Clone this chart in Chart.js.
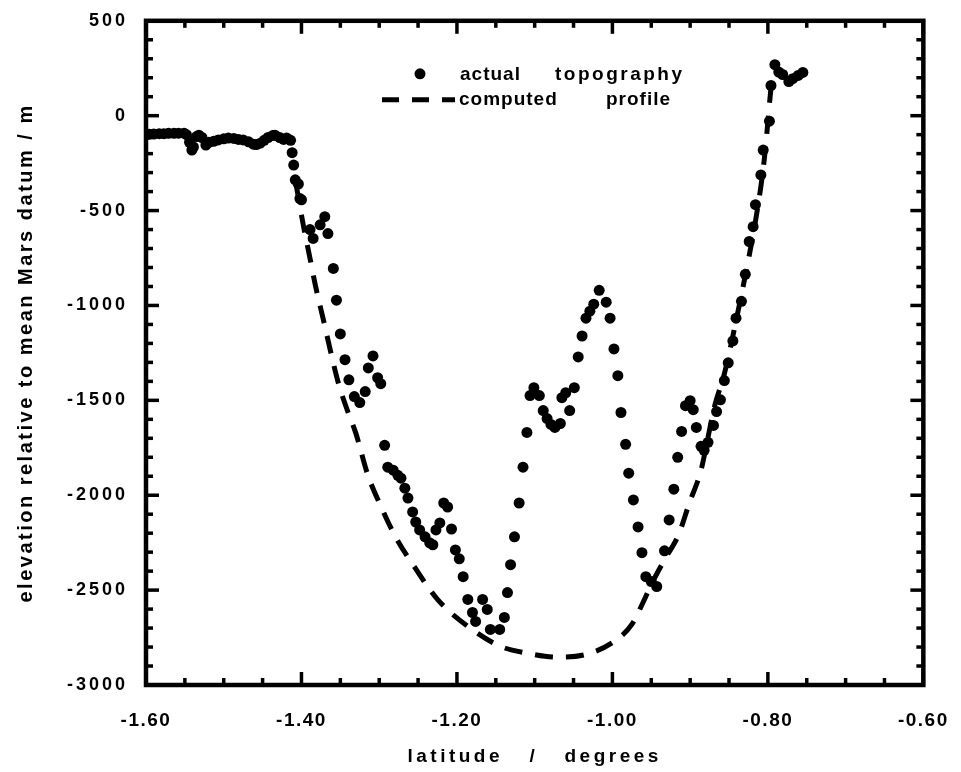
<!DOCTYPE html>
<html>
<head>
<meta charset="utf-8">
<script src="https://cdn.jsdelivr.net/npm/chart.js@4.4.1/dist/chart.umd.min.js"></script>
<style>
  html, body { margin: 0; padding: 0; background: #fff; }
</style>
</head>
<body>
<canvas id="chart" width="961" height="772"></canvas>
<script>
// measured topography (latitude in degrees, elevation in m)
const topoLat = [
  -1.600, -1.596, -1.590, -1.583, -1.577, -1.571, -1.564, -1.558, -1.551, -1.548,
  -1.544, -1.541, -1.539, -1.535, -1.532, -1.528, -1.523, -1.519, -1.513, -1.507,
  -1.500, -1.494, -1.487, -1.481, -1.475, -1.468, -1.462, -1.458, -1.453, -1.448,
  -1.443, -1.437, -1.434, -1.428, -1.423, -1.419, -1.414, -1.412, -1.410, -1.408,
  -1.404, -1.402, -1.400, -1.389, -1.385, -1.376, -1.370, -1.366, -1.359, -1.355,
  -1.350, -1.344, -1.339, -1.332, -1.325, -1.318, -1.314, -1.308, -1.302, -1.298,
  -1.293, -1.289, -1.282, -1.276, -1.272, -1.267, -1.263, -1.257, -1.253, -1.248,
  -1.241, -1.235, -1.231, -1.227, -1.222, -1.217, -1.212, -1.207, -1.202, -1.197,
  -1.192, -1.186, -1.180, -1.176, -1.167, -1.161, -1.157, -1.145, -1.139, -1.135,
  -1.131, -1.126, -1.120, -1.115, -1.110, -1.106, -1.101, -1.094, -1.089, -1.084,
  -1.079, -1.074, -1.067, -1.065, -1.060, -1.055, -1.049, -1.044, -1.039, -1.034,
  -1.029, -1.024, -1.017, -1.008, -1.003, -0.998, -0.993, -0.989, -0.983, -0.979,
  -0.973, -0.967, -0.962, -0.957, -0.950, -0.943, -0.933, -0.927, -0.921, -0.916,
  -0.911, -0.906, -0.900, -0.896, -0.892, -0.886, -0.882, -0.877, -0.870, -0.866,
  -0.861, -0.856, -0.851, -0.845, -0.841, -0.834, -0.829, -0.824, -0.819, -0.816,
  -0.809, -0.806, -0.798, -0.796, -0.791, -0.786, -0.781, -0.773, -0.768, -0.761,
  -0.755
];
const topoElev = [
  -100, -98, -97, -95, -95, -93, -93, -92, -92, -100,
  -140, -181, -165, -110, -103, -115, -155, -140, -135, -128,
  -122, -118, -120, -125, -128, -138, -150, -152, -145, -130,
  -115, -105, -103, -115, -125, -118, -130, -195, -260, -338,
  -360, -437, -443, -600, -647, -575, -532, -621, -805, -972,
  -1150, -1286, -1392, -1480, -1512, -1454, -1329, -1266, -1381, -1412,
  -1737, -1852, -1868, -1895, -1910, -1963, -2015, -2088, -2141, -2183,
  -2219, -2251, -2261, -2183, -2146, -2041, -2062, -2178, -2288, -2335,
  -2429, -2549, -2618, -2665, -2549, -2602, -2707, -2707, -2644, -2513,
  -2366, -2219, -2041, -1852, -1669, -1475, -1433, -1475, -1554, -1596,
  -1627, -1643, -1622, -1486, -1460, -1554, -1433, -1271, -1161, -1067,
  -1030, -993, -920, -983, -1067, -1229, -1370, -1564, -1732, -1884,
  -2025, -2167, -2303, -2429, -2455, -2481, -2293, -2130, -1968, -1800,
  -1664, -1528, -1502, -1549, -1643, -1742, -1763, -1721, -1632, -1559,
  -1497, -1396, -1302, -1187, -1067, -978, -836, -663, -585, -469,
  -312, -181, -29, 159, 269, 230, 217, 180, 195, 212,
  228
];

// computed profile
const profileLat = [
  -1.407, -1.398, -1.389, -1.381, -1.372, -1.363, -1.353, -1.340, -1.330, -1.315,
  -1.298, -1.279, -1.254, -1.225, -1.186, -1.144, -1.110, -1.071, -1.033, -0.994,
  -0.975, -0.960, -0.950, -0.933, -0.915, -0.901, -0.886, -0.877, -0.869, -0.856,
  -0.841, -0.828, -0.815, -0.805, -0.796
];
const profileElev = [
  -360, -569, -752, -915, -1072, -1234, -1402, -1564, -1674, -1889,
  -2057, -2219, -2382, -2549, -2691, -2796, -2832, -2853, -2838, -2759,
  -2681, -2560, -2471, -2340, -2209, -2041, -1868, -1695, -1538, -1360,
  -1082, -820, -532, -244, 149
];

// axis ticks
const xMajor = [-1.6, -1.4, -1.2, -1.0, -0.8, -0.6];
const yMajor = [500, 0, -500, -1000, -1500, -2000, -2500, -3000];
const xMinorStep = 0.05;
const yMinorStep = 100;

const FONT = "'Liberation Sans', Arial, Helvetica, sans-serif";

// wrap a scale's drawing step so its text gets letter spacing
function spaced(scale, method, spacing) {
  const orig = scale[method];
  scale[method] = function (...args) {
    const prev = this.ctx.letterSpacing;
    this.ctx.letterSpacing = spacing;
    orig.apply(this, args);
    this.ctx.letterSpacing = prev;
  };
}

const spacing = {
  x: { labels: "1.5px", title: "3.5px" },
  y: { labels: "3px", title: "2.5px" }
};

const spacingPlugin = {
  id: "spacing",
  afterLayout(chart) {
    Object.keys(spacing).forEach(id => {
      const s = chart.scales[id];
      if (!s || s._spaced) return;
      spaced(s, "drawLabels", spacing[id].labels);
      spaced(s, "drawTitle", spacing[id].title);
      s._spaced = true;
    });
  }
};

// box frame with inward ticks on all four sides
const framePlugin = {
  id: "frame",
  afterDatasetsDraw(chart) {
    const { ctx, chartArea: a, scales: { x, y } } = chart;
    ctx.save();
    ctx.strokeStyle = "#000";
    ctx.lineWidth = 3.5;
    const tick = (x1, y1, x2, y2) => {
      ctx.beginPath();
      ctx.moveTo(x1, y1);
      ctx.lineTo(x2, y2);
      ctx.stroke();
    };
    const xmin = xMajor[0], xmax = xMajor[xMajor.length - 1];
    for (let v = xmin; v <= xmax + 1e-9; v += xMinorStep) {
      const major = xMajor.some(m => Math.abs(m - v) < 1e-6);
      const len = major ? 13 : 7;
      const px = x.getPixelForValue(v);
      tick(px, a.bottom, px, a.bottom - len);
      tick(px, a.top, px, a.top + len);
    }
    const ymin = yMajor[yMajor.length - 1], ymax = yMajor[0];
    for (let v = ymin; v <= ymax + 1e-9; v += yMinorStep) {
      const major = yMajor.includes(Math.round(v));
      const len = major ? 13 : 7;
      const py = y.getPixelForValue(v);
      tick(a.left, py, a.left + len, py);
      tick(a.right, py, a.right - len, py);
    }
    ctx.lineWidth = 4.5;
    ctx.strokeRect(a.left, a.top, a.right - a.left, a.bottom - a.top);
    ctx.restore();
  }
};

// legend inside the plot
const legendPlugin = {
  id: "inlineLegend",
  afterDraw(chart) {
    const { ctx, chartArea: a } = chart;
    ctx.save();
    ctx.fillStyle = "#000";
    ctx.strokeStyle = "#000";
    ctx.font = "bold 19px " + FONT;
    ctx.letterSpacing = "1px";
    ctx.textBaseline = "middle";
    ctx.textAlign = "left";

    ctx.beginPath();
    ctx.arc(a.left + 274, a.top + 53, 5.5, 0, Math.PI * 2);
    ctx.fill();
    ctx.fillText("actual", a.left + 314, a.top + 54);
    ctx.letterSpacing = "2.5px";
    ctx.fillText("topography", a.left + 409, a.top + 54);
    ctx.letterSpacing = "1px";

    ctx.lineWidth = 5;
    ctx.setLineDash([17, 13]);
    ctx.beginPath();
    ctx.moveTo(a.left + 236, a.top + 79);
    ctx.lineTo(a.left + 309, a.top + 79);
    ctx.stroke();
    ctx.setLineDash([]);
    ctx.fillText("computed", a.left + 313, a.top + 79);
    ctx.fillText("profile", a.left + 460, a.top + 79);
    ctx.restore();
  }
};

new Chart(document.getElementById("chart"), {
  type: "scatter",
  data: {
    datasets: [
      {
        label: "actual topography",
        data: topoLat.map((v, i) => ({ x: v, y: topoElev[i] })),
        pointRadius: 5.5,
        pointBackgroundColor: "#000",
        pointBorderWidth: 0,
        showLine: false
      },
      {
        label: "computed profile",
        data: profileLat.map((v, i) => ({ x: v, y: profileElev[i] })),
        showLine: true,
        pointRadius: 0,
        borderColor: "#000",
        borderWidth: 5,
        borderDash: [18, 13],
        cubicInterpolationMode: "monotone",
        fill: false
      }
    ]
  },
  options: {
    responsive: false,
    animation: false,
    layout: { autoPadding: false, padding: { top: 18, right: 34, left: 0, bottom: 0 } },
    plugins: {
      legend: { display: false },
      tooltip: { enabled: false }
    },
    scales: {
      x: {
        type: "linear",
        min: -1.6,
        max: -0.6,
        grid: { display: false },
        border: { display: false },
        afterBuildTicks: s => { s.ticks = xMajor.map(v => ({ value: v })); },
        afterFit: s => { s.height = 87; },
        ticks: {
          color: "#000",
          padding: 16,
          maxRotation: 0,
          autoSkip: false,
          font: { family: FONT, size: 19, weight: "bold" },
          callback: v => v.toFixed(2)
        },
        title: {
          display: true,
          text: "latitude   /   degrees",
          color: "#000",
          font: { family: FONT, size: 19, weight: "bold" },
          padding: { top: 0, bottom: 4 }
        }
      },
      y: {
        type: "linear",
        min: -3000,
        max: 500,
        grid: { display: false },
        border: { display: false },
        afterBuildTicks: s => { s.ticks = yMajor.map(v => ({ value: v })); },
        afterFit: s => { s.width = 146; },
        ticks: {
          color: "#000",
          padding: 10,
          autoSkip: false,
          font: { family: FONT, size: 18, weight: "bold" },
          callback: v => String(v)
        },
        title: {
          display: true,
          text: "elevation relative to mean Mars datum / m",
          color: "#000",
          font: { family: FONT, size: 20, weight: "bold" },
          padding: { top: 14, bottom: 0 }
        }
      }
    }
  },
  plugins: [spacingPlugin, framePlugin, legendPlugin]
});
</script>
</body>
</html>
